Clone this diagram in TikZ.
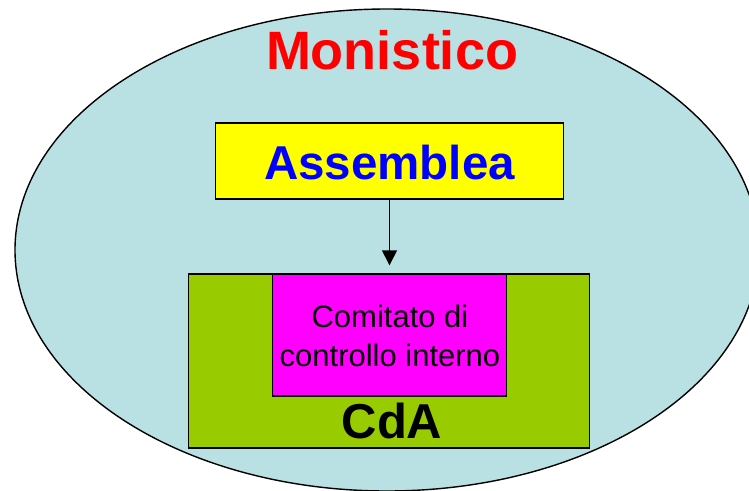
\documentclass[tikz,border=0pt]{standalone}
\usepackage{fontspec}
\setmainfont{Liberation Sans}
\usetikzlibrary{arrows.meta,shapes.geometric}
\definecolor{skyfill}{HTML}{B9E0E3}
\definecolor{cdagreen}{HTML}{99CC00}
\definecolor{magbox}{HTML}{FF00FF}
\definecolor{yelbox}{HTML}{FFFF00}
\tikzset{
  boxstyle/.style={draw=black, line width=1.4pt, rectangle, inner sep=0pt},
  bigbold/.style={font=\fontsize{#1}{#1}\selectfont\bfseries, inner sep=0pt},
}
\begin{document}
\begin{tikzpicture}[x=1pt,y=-1pt]
\useasboundingbox (0,0) rectangle (749,490);
\clip (0,0) rectangle (749,490);
\node[ellipse, draw=black, line width=1.4pt, fill=skyfill, minimum width=744pt, minimum height=482pt, inner sep=0pt] (oval) at (387,250) {};
\node[bigbold=54, text=red] (title) at (392,50) {Monistico};
\node[boxstyle, fill=yelbox, minimum width=348pt, minimum height=76pt] (ass) at (389.5,161) {};
\node[bigbold=47.5, text=blue] (asstext) at (389.5,163) {Assemblea};
\node[boxstyle, fill=cdagreen, minimum width=401pt, minimum height=174pt] (cda) at (389,361) {};
\node[boxstyle, fill=magbox, minimum width=234pt, minimum height=122pt] (com) at (389.5,335) {};
\node[font=\fontsize{31}{39}\selectfont, align=center, inner sep=0pt] (comtext) at (390,336) {Comitato di\\controllo interno};
\node[bigbold=49, text=black] (cdatext) at (392,421) {CdA};
\draw[line width=1.4pt, -{Triangle[width=15pt,length=15pt]}, shorten >=8pt] (ass.south) -- (com.north);
\end{tikzpicture}
\end{document}
